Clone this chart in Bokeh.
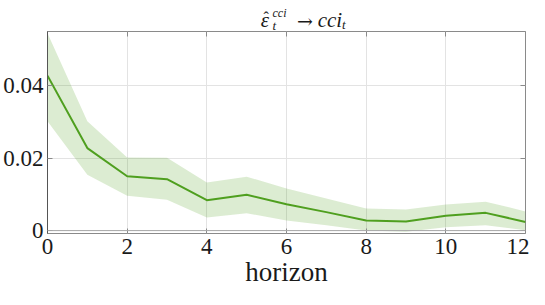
from bokeh.plotting import figure
from bokeh.models import FixedTicker, Span, LinearAxis, Range1d
from bokeh.layouts import column
from bokeh.core.properties import value
from bokeh.embed import file_html
from bokeh.resources import INLINE

# ---- data ----
horizon = [0, 1, 2, 3, 4, 5, 6, 7, 8, 9, 10, 11, 12]
irf = [0.0428, 0.0228, 0.0150, 0.0142, 0.0084, 0.0099, 0.0073, 0.0051, 0.0028, 0.0025, 0.0041, 0.0049, 0.0024]
upper = [0.0545, 0.0302, 0.0202, 0.0201, 0.0133, 0.0149, 0.0116, 0.0089, 0.0061, 0.0058, 0.0072, 0.0080, 0.0053]
lower = [0.0302, 0.0154, 0.0096, 0.0085, 0.0036, 0.0048, 0.0028, 0.0015, 0.0000, -0.0003, 0.0009, 0.0015, 0.0001]

x_ticks = [0, 2, 4, 6, 8, 10, 12]
x_tick_labels = ["0", "2", "4", "6", "8", "10", "12"]
y_ticks = [0, 0.02, 0.04]
y_tick_labels = ["0", "0.02", "0.04"]
x_label = "horizon"

FONT = "Liberation Serif"
GREEN = "#4f9f1f"
TXT = "#1a1a1a"
W = 529
TITLE_H = 31

# ---- title strip (math-style title assembled from text pieces) ----
t = figure(width=W, height=TITLE_H, output_backend="svg", toolbar_location=None,
           x_range=Range1d(0, W), y_range=Range1d(0, TITLE_H),
           x_axis_type=None, y_axis_type=None,
           min_border=0, min_border_left=0, min_border_right=0,
           min_border_top=0, min_border_bottom=0)
t.grid.visible = False
t.outline_line_color = None
t.background_fill_color = "white"
t.border_fill_color = "white"

def piece(text, px, py, size, italic=True, font=FONT):
    t.text(x=[px], y=[py], text=[text], text_font=value(font), text_font_size=value(size),
           text_font_style="italic" if italic else "normal",
           text_color=TXT, text_align="left", text_baseline="alphabetic")

piece("\u03b5", 236, 12, "21px")
piece("\u02c6", 239, 14, "16px", italic=False)
piece("cci", 249, 19, "12px")
piece("t", 249, 6, "13px")
piece("\u2192", 276, 11, "19px", italic=False, font="DejaVu Serif")
piece("cci", 299, 12, "21px")
piece("t", 326, 7, "13px")

# ---- main plot ----
p = figure(width=W, height=289 - TITLE_H, output_backend="svg", toolbar_location=None,
           x_range=Range1d(0, 12), y_range=Range1d(-0.0008, 0.055),
           min_border_top=0, min_border_right=4, min_border_left=0, min_border_bottom=0)
p.background_fill_color = "white"
p.border_fill_color = "white"
p.outline_line_color = "#8a8a8a"
p.outline_line_width = 1

p.varea(x=horizon, y1=lower, y2=upper, fill_color=GREEN, fill_alpha=0.2)
p.add_layout(Span(location=0, dimension="width", line_color="#a8a8a8", line_width=1))
p.line(x=horizon, y=irf, line_color=GREEN, line_width=2)

p.xgrid.ticker = FixedTicker(ticks=x_ticks)
p.ygrid.ticker = FixedTicker(ticks=y_ticks)
for g in (p.xgrid, p.ygrid):
    g.grid_line_color = "#e3e3e3"
    g.grid_line_width = 1

def style_axis(ax, ticks, labels, show_labels=True):
    ax.ticker = FixedTicker(ticks=ticks)
    ax.major_label_overrides = {tk: lb for tk, lb in zip(ticks, labels)}
    ax.minor_tick_line_color = None
    ax.major_tick_in = 5
    ax.major_tick_out = 0
    ax.major_tick_line_color = "#8a8a8a"
    ax.axis_line_color = None
    ax.major_label_text_font = FONT
    ax.major_label_text_color = TXT
    if show_labels:
        ax.major_label_text_font_size = "23px"
    else:
        ax.major_label_text_font_size = "0px"
        ax.major_label_standoff = 0

xa = p.xaxis[0]
ya = p.yaxis[0]
style_axis(xa, x_ticks, x_tick_labels)
style_axis(ya, y_ticks, y_tick_labels)
ya.axis_line_color = "#555555"
xa.major_label_standoff = 5
ya.major_label_standoff = 4
xa.axis_label = x_label
xa.axis_label_text_font = FONT
xa.axis_label_text_font_style = "normal"
xa.axis_label_text_font_size = "27px"
xa.axis_label_text_color = TXT
xa.axis_label_standoff = 0

top = LinearAxis()
style_axis(top, x_ticks, ["" for _ in x_ticks], show_labels=False)
p.add_layout(top, "above")
right = LinearAxis()
style_axis(right, y_ticks, ["" for _ in y_ticks], show_labels=False)
p.add_layout(right, "right")

layout = column(t, p, spacing=0)
open("out.html", "w").write(file_html(layout, INLINE))
